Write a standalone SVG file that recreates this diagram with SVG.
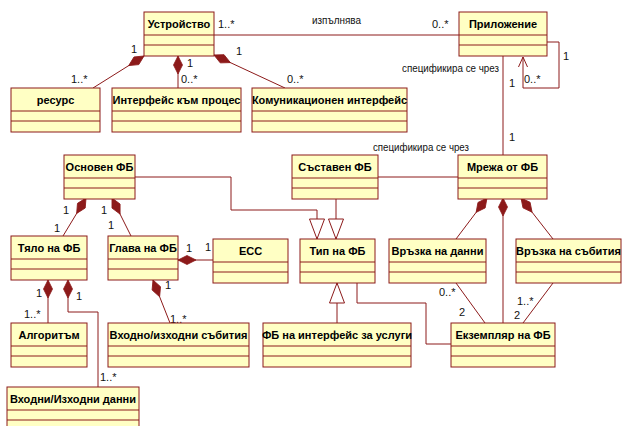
<svg xmlns="http://www.w3.org/2000/svg" width="622" height="426" viewBox="0 0 622 426">
<style>
.box rect{fill:#ffffc4;stroke:#8c1a1a;stroke-width:1}
.box line{stroke:#8c1a1a;stroke-width:1}
.box text{font-family:"Liberation Sans",Arial,sans-serif;font-size:11px;font-weight:bold;fill:#000;text-anchor:middle}
.c{fill:none;stroke:#8c1a1a;stroke-width:1}
.comp{marker-start:url(#dia)}
.gen{marker-end:url(#tri)}
.lbl{font-family:"Liberation Sans",Arial,sans-serif;font-size:11px;fill:#111}
</style>
<defs>
<marker id="dia" markerUnits="userSpaceOnUse" viewBox="-1 -6 22 12" refX="0" refY="0" markerWidth="22" markerHeight="12" orient="auto">
<path d="M0,0 L9,-4.5 L18,0 L9,4.5 z" fill="#8c1a1a" stroke="#8c1a1a" stroke-width="0.8"/>
</marker>
<marker id="tri" markerUnits="userSpaceOnUse" viewBox="-22 -9 24 18" refX="0" refY="0" markerWidth="24" markerHeight="18" orient="auto">
<path d="M0,0 L-20,-7.5 L-20,7.5 z" fill="#fff" stroke="#8c1a1a" stroke-width="1"/>
</marker>
<marker id="open" markerUnits="userSpaceOnUse" viewBox="-12 -6 14 12" refX="0" refY="0" markerWidth="14" markerHeight="12" orient="auto">
<path d="M-10,-4.5 L0,0 L-10,4.5" fill="none" stroke="#8c1a1a" stroke-width="1"/>
</marker>
</defs>
<rect width="622" height="426" fill="#fff"/>

<g id="connectors">
<!-- associations -->
<path class="c" d="M214,35 H459"/>
<path class="c" d="M503,56 V155"/>
<path class="c" d="M378,177 H458"/>
<path class="c" d="M357,283 V303 H426 V344 H451"/>
<path class="c" d="M456,283 L485,323"/>
<path class="c" d="M553,283 L523,323"/>
<path class="c" d="M547,42 H559 V88 H523 V57" marker-end="url(#open)"/>
<!-- compositions -->
<path class="c comp" d="M144,56 L93,88"/>
<path class="c comp" d="M178,56 V88"/>
<path class="c comp" d="M214,55 L285,88"/>
<path class="c comp" d="M86,198 L63,236"/>
<path class="c comp" d="M112,198 L131,236"/>
<path class="c comp" d="M487,198 L456,239"/>
<path class="c comp" d="M503,198 V323"/>
<path class="c comp" d="M521,198 L553,239"/>
<path class="c comp" d="M178,260 H213"/>
<path class="c comp" d="M153,280 L170,323"/>
<path class="c comp" d="M48,280 V323"/>
<path class="c comp" d="M68,280 V312 H98 V387"/>
<!-- generalizations -->
<path class="c gen" d="M135,177 H231 V210 H317 V239"/>
<path class="c gen" d="M336,198 V239"/>
<path class="c gen" d="M337,323 V283"/>
<!-- labels -->
<text class="lbl" x="218" y="28">1..*</text>
<text class="lbl" x="312" y="24" textLength="49" lengthAdjust="spacingAndGlyphs">изпълнява</text>
<text class="lbl" x="432" y="28">0..*</text>
<text class="lbl" x="131" y="53">1</text>
<text class="lbl" x="71" y="83">1..*</text>
<text class="lbl" x="187" y="67">1</text>
<text class="lbl" x="181" y="83">0..*</text>
<text class="lbl" x="236" y="55">1</text>
<text class="lbl" x="287" y="83">0..*</text>
<text class="lbl" x="563" y="60">1</text>
<text class="lbl" x="524" y="83">0..*</text>
<text class="lbl" x="402" y="72" textLength="97" lengthAdjust="spacingAndGlyphs">спецификира се чрез</text>
<text class="lbl" x="509" y="87">1</text>
<text class="lbl" x="509" y="141">1</text>
<text class="lbl" x="373" y="151" textLength="96" lengthAdjust="spacingAndGlyphs">спецификира се чрез</text>
<text class="lbl" x="63" y="214">1</text>
<text class="lbl" x="54" y="232">1</text>
<text class="lbl" x="101" y="214">1</text>
<text class="lbl" x="108" y="229">1</text>
<text class="lbl" x="186" y="252">1</text>
<text class="lbl" x="205" y="251">1</text>
<text class="lbl" x="165" y="289">1</text>
<text class="lbl" x="170" y="323">1..*</text>
<text class="lbl" x="36" y="297">1</text>
<text class="lbl" x="24" y="318">1..*</text>
<text class="lbl" x="76" y="300">1</text>
<text class="lbl" x="100" y="381">1..*</text>
<text class="lbl" x="439" y="296">0..*</text>
<text class="lbl" x="459" y="316">2</text>
<text class="lbl" x="517" y="305">1..*</text>
<text class="lbl" x="514" y="319">2</text>
</g>

<g id="ustroystvo" class="box"><rect x="144" y="12" width="70" height="44"/><line x1="144" y1="35" x2="214" y2="35"/><line x1="144" y1="45" x2="214" y2="45"/><text x="179" y="28">Устройство</text></g>
<g id="prilozhenie" class="box"><rect x="459" y="12" width="88" height="44"/><line x1="459" y1="35" x2="547" y2="35"/><line x1="459" y1="45" x2="547" y2="45"/><text x="503" y="28">Приложение</text></g>
<g id="resurs" class="box"><rect x="11" y="88" width="89" height="44"/><line x1="11" y1="111" x2="100" y2="111"/><line x1="11" y1="121" x2="100" y2="121"/><text x="55.5" y="104">ресурс</text></g>
<g id="interfeis-proces" class="box"><rect x="112" y="88" width="129" height="44"/><line x1="112" y1="111" x2="241" y2="111"/><line x1="112" y1="121" x2="241" y2="121"/><text x="176.5" y="104">Интерфейс към процес</text></g>
<g id="komunikacionen" class="box"><rect x="252" y="88" width="155" height="44"/><line x1="252" y1="111" x2="407" y2="111"/><line x1="252" y1="121" x2="407" y2="121"/><text x="329.5" y="104">Комуникационен интерфейс</text></g>
<g id="osnoven-fb" class="box"><rect x="64" y="155" width="71" height="44"/><line x1="64" y1="178" x2="135" y2="178"/><line x1="64" y1="188" x2="135" y2="188"/><text x="99.5" y="171">Основен ФБ</text></g>
<g id="sastaven-fb" class="box"><rect x="292" y="155" width="86" height="44"/><line x1="292" y1="178" x2="378" y2="178"/><line x1="292" y1="188" x2="378" y2="188"/><text x="335" y="171">Съставен ФБ</text></g>
<g id="mrezha-fb" class="box"><rect x="458" y="155" width="89" height="44"/><line x1="458" y1="178" x2="547" y2="178"/><line x1="458" y1="188" x2="547" y2="188"/><text x="502.5" y="171">Мрежа от ФБ</text></g>
<g id="tyalo-fb" class="box"><rect x="11" y="236" width="76" height="44"/><line x1="11" y1="259" x2="87" y2="259"/><line x1="11" y1="269" x2="87" y2="269"/><text x="49" y="252">Тяло на ФБ</text></g>
<g id="glava-fb" class="box"><rect x="108" y="236" width="70" height="44"/><line x1="108" y1="259" x2="178" y2="259"/><line x1="108" y1="269" x2="178" y2="269"/><text x="143" y="252">Глава на ФБ</text></g>
<g id="ecc" class="box"><rect x="213" y="239" width="75" height="44"/><line x1="213" y1="262" x2="288" y2="262"/><line x1="213" y1="272" x2="288" y2="272"/><text x="250.5" y="255">ECC</text></g>
<g id="tip-fb" class="box"><rect x="300" y="239" width="75" height="44"/><line x1="300" y1="262" x2="375" y2="262"/><line x1="300" y1="272" x2="375" y2="272"/><text x="337.5" y="255">Тип на ФБ</text></g>
<g id="vrazka-danni" class="box"><rect x="389" y="239" width="97" height="44"/><line x1="389" y1="262" x2="486" y2="262"/><line x1="389" y1="272" x2="486" y2="272"/><text x="437.5" y="255">Връзка на данни</text></g>
<g id="vrazka-sabitia" class="box"><rect x="516" y="239" width="105" height="44"/><line x1="516" y1="262" x2="621" y2="262"/><line x1="516" y1="272" x2="621" y2="272"/><text x="568.5" y="255">Връзка на събития</text></g>
<g id="algoritam" class="box"><rect x="11" y="323" width="76" height="44"/><line x1="11" y1="346" x2="87" y2="346"/><line x1="11" y1="356" x2="87" y2="356"/><text x="49" y="339">Алгоритъм</text></g>
<g id="vhodno-izhodni-sabitia" class="box"><rect x="108" y="323" width="141" height="44"/><line x1="108" y1="346" x2="249" y2="346"/><line x1="108" y1="356" x2="249" y2="356"/><text x="178.5" y="339">Входно/изходни събития</text></g>
<g id="fb-interfeis-uslugi" class="box"><rect x="263" y="323" width="148" height="44"/><line x1="263" y1="346" x2="411" y2="346"/><line x1="263" y1="356" x2="411" y2="356"/><text x="337" y="339">ФБ на интерфейс за услуги</text></g>
<g id="ekzemplyar-fb" class="box"><rect x="451" y="323" width="104" height="44"/><line x1="451" y1="346" x2="555" y2="346"/><line x1="451" y1="356" x2="555" y2="356"/><text x="503" y="339">Екземпляр на ФБ</text></g>
<g id="vhodni-izhodni-danni" class="box"><rect x="7" y="387" width="132" height="44"/><line x1="7" y1="410" x2="139" y2="410"/><line x1="7" y1="420" x2="139" y2="420"/><text x="73" y="403">Входни/Изходни данни</text></g>
</svg>
